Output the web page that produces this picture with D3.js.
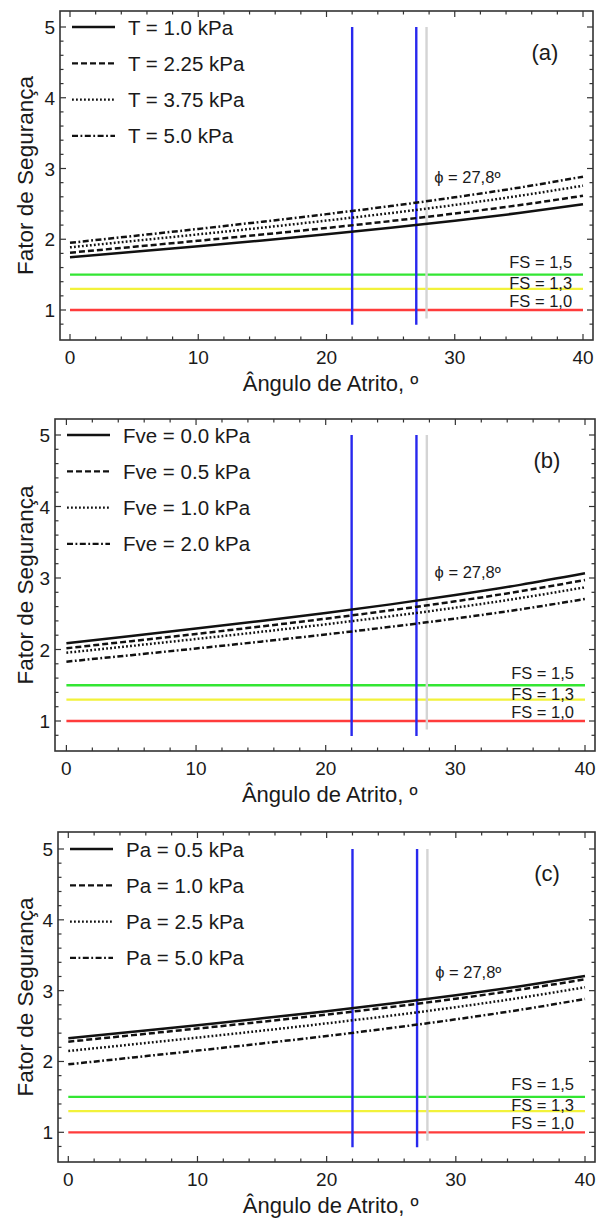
<!DOCTYPE html>
<meta charset="utf-8">
<script src="https://d3js.org/d3.v7.min.js"></script>
<html>
<head>
  <title>Fator de Segurança</title>
  <style>
    body { margin: 0; background: #fff; }
    svg text { font-family: "Liberation Sans", Arial, sans-serif; fill: #1a1a1a; }
  </style>
</head>
<body>
  <div id="my_dataviz"></div>

<script>
  // friction angle samples (degrees), shared by all three panels
  var angles = [0, 5, 10, 15, 20, 25, 30, 35, 40];

  // panel (a) - T
  var legendA = ["T = 1.0 kPa", "T = 2.25 kPa", "T = 3.75 kPa", "T = 5.0 kPa"];
  var fsA = [
    [1.745, 1.823, 1.902, 1.984, 2.070, 2.161, 2.261, 2.370, 2.494],
    [1.810, 1.894, 1.979, 2.067, 2.159, 2.257, 2.364, 2.481, 2.615],
    [1.886, 1.977, 2.069, 2.164, 2.264, 2.370, 2.485, 2.613, 2.757],
    [1.950, 2.047, 2.146, 2.248, 2.355, 2.469, 2.593, 2.729, 2.884]
  ];

  // panel (b) - Fve
  var legendB = ["Fve = 0.0 kPa", "Fve = 0.5 kPa", "Fve = 1.0 kPa", "Fve = 2.0 kPa"];
  var fsB = [
    [2.087, 2.189, 2.293, 2.400, 2.512, 2.631, 2.761, 2.904, 3.066],
    [2.017, 2.117, 2.218, 2.322, 2.431, 2.548, 2.674, 2.814, 2.972],
    [1.955, 2.050, 2.147, 2.247, 2.352, 2.464, 2.585, 2.719, 2.870],
    [1.830, 1.921, 2.014, 2.110, 2.210, 2.317, 2.433, 2.561, 2.706]
  ];

  // panel (c) - Pa
  var legendC = ["Pa = 0.5 kPa", "Pa = 1.0 kPa", "Pa = 2.5 kPa", "Pa = 5.0 kPa"];
  var fsC = [
    [2.328, 2.420, 2.513, 2.609, 2.710, 2.817, 2.934, 3.063, 3.208],
    [2.280, 2.372, 2.465, 2.561, 2.662, 2.769, 2.886, 3.015, 3.160],
    [2.148, 2.242, 2.337, 2.435, 2.538, 2.648, 2.767, 2.899, 3.048],
    [1.960, 2.056, 2.154, 2.255, 2.360, 2.473, 2.595, 2.730, 2.883]
  ];

  // reference lines
  var fsLimits = [1.5, 1.3, 1.0];
  var fsLimitLabels = ["FS = 1,5", "FS = 1,3", "FS = 1,0"];
  var angleMarks = [22, 27, 27.8];
  var phiLabel = "ϕ = 27,8º";

  var xTicks = [0, 10, 20, 30, 40];
  var yTicks = [1, 2, 3, 4, 5];

  // styles
  var dashes = [null, "6,3", "1.8,2.2", "6,2.5,1.8,2.5"];
  var limitColors = ["#33e633", "#f2f23a", "#ff3b3b"];
  var markColors = ["#2828ee", "#2828ee", "#d4d4d4"];
  var limitLabelShift = [-6.5, 0, -3.5];

  var W = 603, H = 1220;
  var svg = d3.select("#my_dataviz")
    .append("svg")
      .attr("width", W)
      .attr("height", H);

  // frame box and pixel anchors for each panel
  var panels = [
    {tag: "(a)", series: fsA, legend: legendA, left: 60, right: 593, top: 11, bottom: 340,
     x0: 70, x40: 583, y1: 310, y5: 27, phiY: 2.795},
    {tag: "(b)", series: fsB, legend: legendB, left: 55, right: 595, top: 419, bottom: 751,
     x0: 66.4, x40: 585, y1: 721, y5: 435, phiY: 3.0},
    {tag: "(c)", series: fsC, legend: legendC, left: 58, right: 595, top: 832, bottom: 1162,
     x0: 68.3, x40: 585, y1: 1132.3, y5: 849, phiY: 3.18}
  ];

  panels.forEach(drawPanel);

  function drawPanel(p) {
    var g = svg.append("g");

    var x = d3.scaleLinear().domain([0, 40]).range([p.x0, p.x40]);
    var y = d3.scaleLinear().domain([1, 5]).range([p.y1, p.y5]);

    // FS limit lines
    g.selectAll(".limit")
      .data(fsLimits)
      .enter()
      .append("line")
        .attr("x1", x(0)).attr("x2", x(40))
        .attr("y1", function(d) { return y(d); })
        .attr("y2", function(d) { return y(d); })
        .style("stroke", function(d, i) { return limitColors[i]; })
        .style("stroke-width", 2.3);

    // vertical angle markers
    g.selectAll(".mark")
      .data(angleMarks)
      .enter()
      .append("line")
        .attr("x1", function(d) { return x(d); })
        .attr("x2", function(d) { return x(d); })
        .attr("y1", function(d, i) { return y(i == 2 ? 0.88 : 0.79); })
        .attr("y2", y(5))
        .style("stroke", function(d, i) { return markColors[i]; })
        .style("stroke-width", 2.4);

    // FS curves
    var line = d3.line()
      .x(function(d, i) { return x(angles[i]); })
      .y(function(d) { return y(d); })
      .curve(d3.curveMonotoneX);

    g.selectAll(".curve")
      .data(p.series)
      .enter()
      .append("path")
        .attr("d", line)
        .style("fill", "none")
        .style("stroke", "#111")
        .style("stroke-width", 2.5)
        .style("stroke-dasharray", function(d, i) { return dashes[i]; });

    // labels on reference lines
    g.selectAll(".limitLabel")
      .data(fsLimits)
      .enter()
      .append("text")
        .attr("x", x(39.15))
        .attr("y", function(d, i) { return y(d) + limitLabelShift[i]; })
        .attr("text-anchor", "end")
        .style("font-size", "16.5px")
        .text(function(d, i) { return fsLimitLabels[i]; });

    g.append("text")
      .attr("x", x(28.4))
      .attr("y", y(p.phiY))
      .style("font-size", "16.5px")
      .text(phiLabel);

    // legend
    var leg = g.selectAll(".legend")
      .data(p.legend)
      .enter()
      .append("g")
        .attr("transform", function(d, i) { return "translate(" + (p.left + 12) + "," + (y(5) + i * 36.3) + ")"; });
    leg.append("line")
      .attr("x1", 0).attr("x2", 43)
      .style("stroke", "#111")
      .style("stroke-width", 2.3)
      .style("stroke-dasharray", function(d, i) { return dashes[i]; });
    leg.append("text")
      .attr("x", 56)
      .attr("y", 7.5)
      .style("font-size", "20.5px")
      .text(function(d) { return d; });

    // panel tag
    g.append("text")
      .attr("x", p.right - 48)
      .attr("y", p.top + 49)
      .attr("text-anchor", "middle")
      .style("font-size", "22px")
      .text(p.tag);

    // frame
    g.append("rect")
      .attr("x", p.left).attr("y", p.top)
      .attr("width", p.right - p.left)
      .attr("height", p.bottom - p.top)
      .style("fill", "none")
      .style("stroke", "#333")
      .style("stroke-width", 1.6);

    // inward ticks on all four sides
    var xMinor = d3.range(0, 40.01, 2);
    var yMinor = d3.range(0.8, 5.01, 0.2);
    var tk = g.append("g").style("stroke", "#333").style("stroke-width", 1.2);
    xMinor.forEach(function(v) {
      var len = (v % 10 === 0) ? 6 : 3.5;
      tk.append("line").attr("x1", x(v)).attr("x2", x(v)).attr("y1", p.bottom).attr("y2", p.bottom - len);
      tk.append("line").attr("x1", x(v)).attr("x2", x(v)).attr("y1", p.top).attr("y2", p.top + len);
    });
    yMinor.forEach(function(v) {
      var len = (Math.abs(v - Math.round(v)) < 0.01) ? 6 : 3.5;
      tk.append("line").attr("x1", p.left).attr("x2", p.left + len).attr("y1", y(v)).attr("y2", y(v));
      tk.append("line").attr("x1", p.right).attr("x2", p.right - len).attr("y1", y(v)).attr("y2", y(v));
    });

    // tick labels
    g.selectAll(".xlab")
      .data(xTicks)
      .enter()
      .append("text")
        .attr("x", function(d) { return x(d); })
        .attr("y", p.bottom + 24)
        .attr("text-anchor", "middle")
        .style("font-size", "19px")
        .text(function(d) { return d; });

    g.selectAll(".ylab")
      .data(yTicks)
      .enter()
      .append("text")
        .attr("x", p.left - 5)
        .attr("y", function(d) { return y(d) + 7; })
        .attr("text-anchor", "end")
        .style("font-size", "19px")
        .text(function(d) { return d; });

    // axis titles
    g.append("text")
      .attr("x", (p.x0 + p.x40) / 2 + 4)
      .attr("y", p.bottom + 51)
      .attr("text-anchor", "middle")
      .style("font-size", "22px")
      .text("Ângulo de Atrito, º");

    g.append("text")
      .attr("transform", "translate(33," + ((p.top + p.bottom) / 2) + ")rotate(-90)")
      .attr("text-anchor", "middle")
      .style("font-size", "22.5px")
      .text("Fator de Segurança");
  }
</script>
</body>
</html>
